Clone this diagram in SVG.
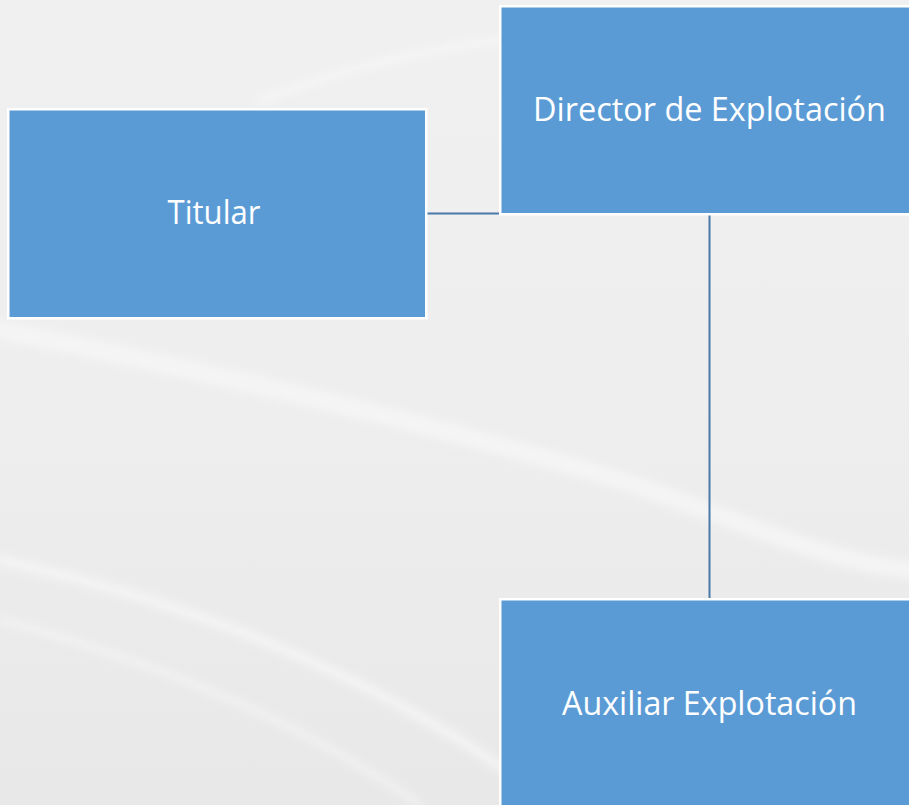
<svg xmlns="http://www.w3.org/2000/svg" width="909" height="805" viewBox="0 0 909 805">
<defs>
<linearGradient id="bg" x1="0" y1="0" x2="0" y2="1">
<stop offset="0" stop-color="#f0f0f0"/>
<stop offset="0.5" stop-color="#eeeeee"/>
<stop offset="1" stop-color="#e8e8e8"/>
</linearGradient>
<filter id="blur" x="-10%" y="-10%" width="120%" height="120%"><feGaussianBlur stdDeviation="4"/></filter>
<style>
.node rect{fill:#5b9bd5;stroke:#ffffff;stroke-width:2.5}
.node text{fill:#ffffff;font-family:"Open Sans","Noto Sans",sans-serif;font-size:32px;text-anchor:middle}
.conn line{stroke:#4a78a8;stroke-width:2}
.sw{fill:none;stroke:#f8f8f8;stroke-linecap:round}
</style>
</defs>
<rect x="0" y="0" width="909" height="805" fill="url(#bg)"/>
<g opacity="0.7" filter="url(#blur)">
<path class="sw" d="M0 330 C200 370 420 420 620 480 C740 520 820 560 909 570" stroke-width="18"/>
<path class="sw" d="M0 560 C180 600 330 660 460 740 C500 765 530 790 560 805" stroke-width="10"/>
<path class="sw" d="M0 620 C150 660 300 720 420 805" stroke-width="6"/>
<path class="sw" d="M260 100 C340 70 420 50 500 40" stroke-width="8"/>
</g>
<g id="connectors" class="conn">
<line x1="427" y1="213.5" x2="500" y2="213.5"/>
<line x1="709.5" y1="215" x2="709.5" y2="599"/>
</g>
<g id="titular" class="node">
<rect x="8.25" y="109.25" width="418" height="209"/>
<text x="214" y="224" textLength="93" lengthAdjust="spacingAndGlyphs">Titular</text>
</g>
<g id="director" class="node">
<rect x="500.25" y="6.25" width="420" height="208"/>
<text x="709.5" y="121" textLength="353" lengthAdjust="spacingAndGlyphs">Director de Explotación</text>
</g>
<g id="auxiliar" class="node">
<rect x="500.25" y="599.25" width="420" height="220"/>
<text x="709.5" y="715" textLength="295" lengthAdjust="spacingAndGlyphs">Auxiliar Explotación</text>
</g>
</svg>
